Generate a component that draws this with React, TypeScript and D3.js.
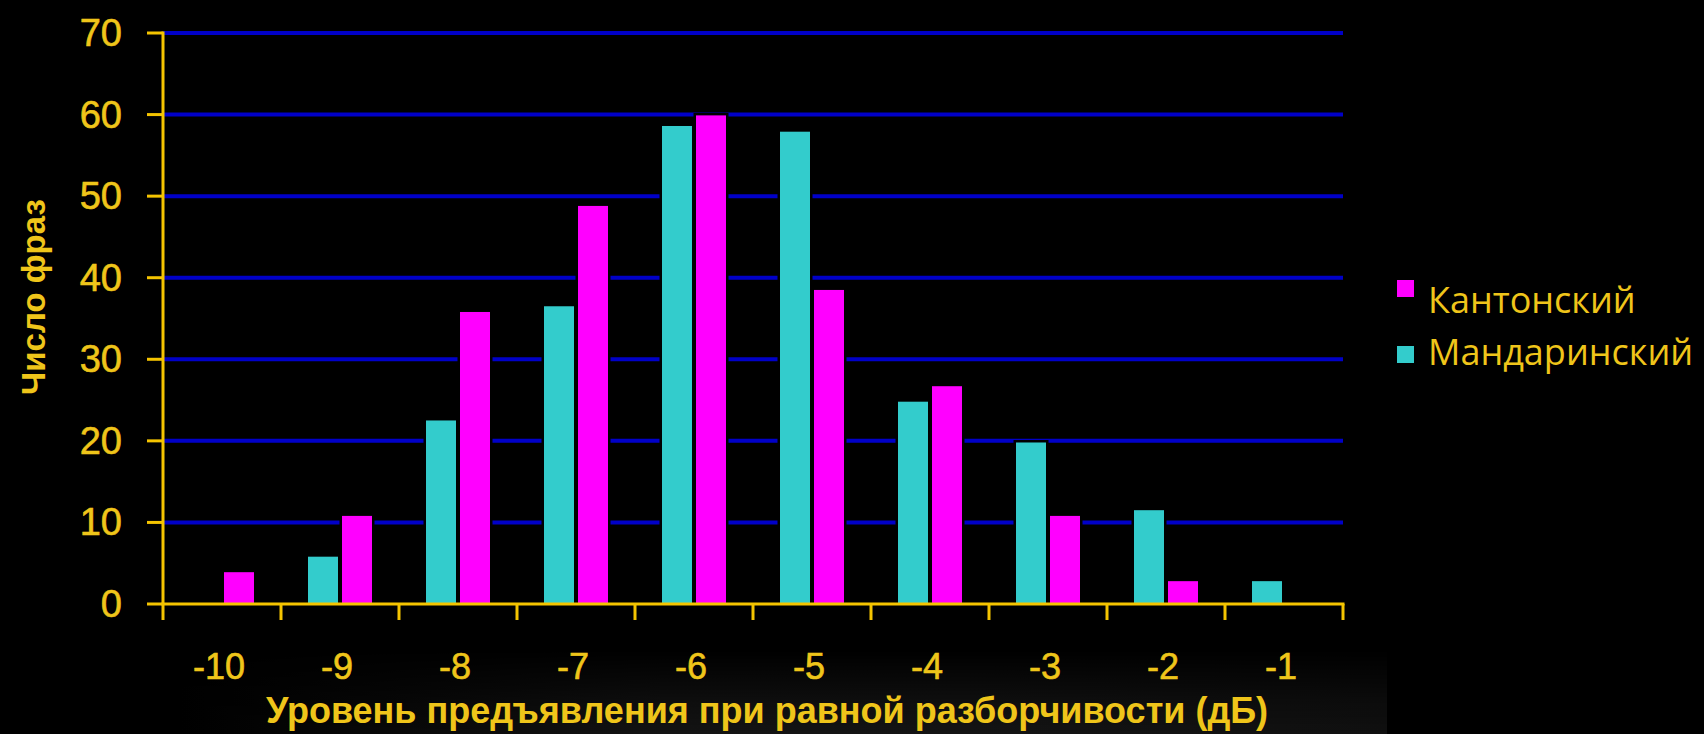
import React from 'react';
import * as d3 from 'd3';

// Presentation level at equal intelligibility (dB)
const levels = ['-10', '-9', '-8', '-7', '-6', '-5', '-4', '-3', '-2', '-1'];
// Number of phrases per level
const cantonese = [3.9, 10.8, 35.8, 48.8, 59.9, 38.5, 26.7, 10.8, 2.8, 0];
const mandarin = [0, 5.8, 22.5, 36.5, 58.6, 57.9, 24.8, 19.8, 11.5, 2.8];
const yTicks = [0, 10, 20, 30, 40, 50, 60, 70];

const seriesOrder = ['mandarin', 'cantonese'];
const legendItems = [
  { key: 'cantonese', label: 'Кантонский' },
  { key: 'mandarin', label: 'Мандаринский' },
];
const colors: Record<string, string> = { cantonese: '#FF00FF', mandarin: '#33CCCC' };

const W = 1704;
const H = 734;
const left = 163;
const right = 1343;
const top = 33;
const bottom = 604;

const GOLD = '#F5C400';
const TEXT = '#EFC51A';
const GRID = '#0000C8';

export default function App() {
  const x0 = d3
    .scaleBand<string>()
    .domain(levels)
    .range([left, right])
    .paddingInner(0.4576)
    .paddingOuter(0.2288);
  const x1 = d3
    .scaleBand<string>()
    .domain(seriesOrder)
    .range([0, x0.bandwidth()])
    .paddingInner(0.1176);
  const y = d3.scaleLinear().domain([0, 70]).range([bottom, top]);

  const values: Record<string, number[]> = { cantonese, mandarin };
  const step = (right - left) / levels.length;
  const boundaries = d3.range(levels.length + 1).map((i) => left + i * step);

  return (
    <div style={{ position: 'fixed', inset: 0, background: '#000' }}>
      <svg width={W} height={H} style={{ display: 'block' }}>
        <defs>
          <linearGradient id="hazeH" x1="0" x2="1" y1="0" y2="0">
            <stop offset="0" stopColor="#000" />
            <stop offset="0.4" stopColor="#131313" />
            <stop offset="0.65" stopColor="#141414" />
            <stop offset="1" stopColor="#101010" />
          </linearGradient>
          <linearGradient id="hazeV" x1="0" x2="0" y1="0" y2="1">
            <stop offset="0" stopColor="#fff" stopOpacity="0" />
            <stop offset="0.6" stopColor="#fff" stopOpacity="0.7" />
            <stop offset="1" stopColor="#fff" stopOpacity="1" />
          </linearGradient>
          <mask id="hazeMask">
            <rect x={180} y={650} width={1207} height={84} fill="url(#hazeV)" />
          </mask>
        </defs>
        <rect x={0} y={0} width={W} height={H} fill="#000" />
        {/* soft backdrop behind the x labels */}
        <rect x={180} y={650} width={1207} height={84} fill="url(#hazeH)" mask="url(#hazeMask)" />

        {/* horizontal grid */}
        {yTicks
          .filter((t) => t > 0)
          .map((t) => (
            <line key={t} x1={left} x2={right} y1={y(t)} y2={y(t)} stroke={GRID} strokeWidth={4} />
          ))}

        {/* bars */}
        {levels.map((lv, i) => (
          <g key={lv} transform={`translate(${x0(lv)},0)`}>
            {seriesOrder.map((s) => {
              const v = values[s][i];
              if (!v) return null;
              return (
                <rect
                  key={s}
                  x={x1(s)}
                  y={y(v)}
                  width={x1.bandwidth()}
                  height={bottom - y(v)}
                  fill={colors[s]}
                  stroke="#000"
                  strokeWidth={5}
                  style={{ paintOrder: 'stroke' }}
                />
              );
            })}
          </g>
        ))}

        {/* y axis */}
        <line x1={left} x2={left} y1={top - 1.5} y2={bottom} stroke={GOLD} strokeWidth={3} />
        {yTicks.map((t) => (
          <g key={t}>
            <line x1={left - 16} x2={left} y1={y(t)} y2={y(t)} stroke={GOLD} strokeWidth={3} />
            <text
              x={122}
              y={y(t)}
              textAnchor="end"
              dominantBaseline="central"
              fill={TEXT}
              stroke={TEXT}
              strokeWidth={0.6}
              fontFamily="'Liberation Sans', Arial, sans-serif"
              fontSize={38}
            >
              {t}
            </text>
          </g>
        ))}

        {/* x axis */}
        <line x1={left - 1.5} x2={right + 1.5} y1={bottom} y2={bottom} stroke={GOLD} strokeWidth={3} />
        {boundaries.map((bx, i) => (
          <line key={i} x1={bx} x2={bx} y1={bottom} y2={bottom + 16} stroke={GOLD} strokeWidth={3} />
        ))}
        {levels.map((lv) => (
          <text
            key={lv}
            x={(x0(lv) as number) + x0.bandwidth() / 2 - 3}
            y={679}
            textAnchor="middle"
            fill={TEXT}
            stroke={TEXT}
            strokeWidth={0.6}
            fontFamily="'Liberation Sans', Arial, sans-serif"
            fontSize={36}
          >
            {lv}
          </text>
        ))}

        {/* axis titles */}
        <text
          x={767}
          y={723}
          textAnchor="middle"
          fill={TEXT}
          fontFamily="'Liberation Sans', Arial, sans-serif"
          fontWeight="bold"
          fontSize={36}
        >
          Уровень предъявления при равной разборчивости (дБ)
        </text>
        <text
          transform="translate(45,297) rotate(-90)"
          textAnchor="middle"
          fill={TEXT}
          fontFamily="'Liberation Sans', Arial, sans-serif"
          fontWeight="bold"
          fontSize={33}
        >
          Число фраз
        </text>

        {/* legend */}
        {legendItems.map((it, i) => (
          <g key={it.key}>
            <rect x={1397} y={i === 0 ? 280 : 346} width={17} height={17} fill={colors[it.key]} />
            <text
              x={1428}
              y={313 + i * 52}
              fill={TEXT}
              fontFamily="'Open Sans', 'Noto Sans', sans-serif"
              fontSize={36}
            >
              {it.label}
            </text>
          </g>
        ))}
      </svg>
    </div>
  );
}
